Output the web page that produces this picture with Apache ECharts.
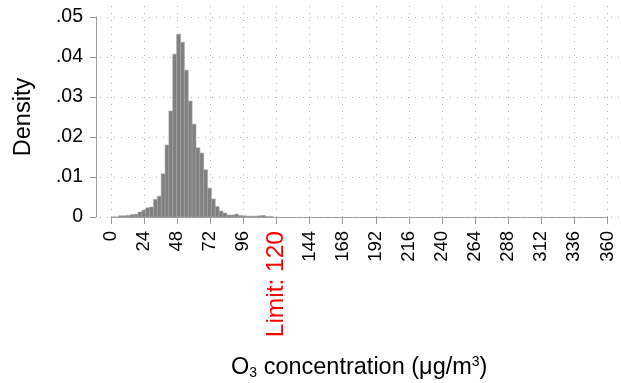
<!DOCTYPE html>
<html>
<head>
<meta charset="utf-8">
<script src="https://cdn.jsdelivr.net/npm/echarts@6/dist/echarts.min.js"></script>
<style>
html,body{margin:0;padding:0;background:#fff;}
#chart{width:621px;height:383px;}
</style>
</head>
<body>
<div id="chart"></div>
<script>
// ---- data ----
const binStart = 0;
const binWidth = 2.8;
const densities = [0, 0, 0.0003, 0.0003, 0.0004, 0.0006, 0.0007, 0.00125, 0.0017, 0.0023,
  0.0025, 0.0044, 0.0052, 0.0108, 0.018, 0.0265, 0.0407, 0.0457, 0.0437, 0.0367,
  0.029, 0.0232, 0.0173, 0.016, 0.0118, 0.0072, 0.0045, 0.0026, 0.0015, 0.001,
  0.0005, 0.0005, 0.0007, 0.0004, 0.0003, 0.0002, 0.0002, 0.0002, 0.0003, 0.0004,
  0.0001, 0.0001];
const xTicks = [0, 24, 48, 72, 96, 120, 144, 168, 192, 216, 240, 264, 288, 312, 336, 360];
const yTicks = [0, 0.01, 0.02, 0.03, 0.04, 0.05];
const yTickLabels = ['0', '.01', '.02', '.03', '.04', '.05'];
const limitValue = 120;
const limitLabel = 'Limit: 120';
const yTitle = 'Density';

// ---- layout ----
const W = 621, H = 383;
const A = {left: 111, right: 13.5, top: 17, bottom: 166};   // axes frame (0..360, 0..0.05)
const B = {left: 100, right: 1, top: 3, bottom: 166};        // plot region (grid lines)
const xMin = xTicks[0], xMax = xTicks[xTicks.length - 1];
const yMin = yTicks[0], yMax = yTicks[yTicks.length - 1];
const pxX = (W - A.left - A.right) / (xMax - xMin);
const pxY = (H - A.top - A.bottom) / (yMax - yMin);
const bxMin = xMin - (A.left - B.left) / pxX;
const bxMax = xMax + (A.right - B.right) / pxX;
const byMax = yMax + (A.top - B.top) / pxY;

const bins = densities.map((d, i) => [binStart + i * binWidth, binStart + (i + 1) * binWidth, d]);

const font = 'Liberation Sans, Arial, sans-serif';
const axisGray = '#9a9a9a';

const chart = echarts.init(document.getElementById('chart'), null, {renderer: 'canvas'});
chart.setOption({
  animation: false,
  backgroundColor: '#fff',
  textStyle: {fontFamily: font},
  grid: [
    {left: A.left, right: A.right, top: A.top, bottom: A.bottom, containLabel: false, outerBoundsMode: 'none'},
    {left: B.left, right: B.right, top: B.top, bottom: B.bottom, containLabel: false, outerBoundsMode: 'none'}
  ],
  xAxis: [
    {
      type: 'value', gridIndex: 0, min: xMin, max: xMax, interval: 24,
      axisLine: {show: true, onZero: false, lineStyle: {color: axisGray, width: 1}},
      axisTick: {show: true, length: 7, lineStyle: {color: axisGray}},
      splitLine: {show: false},
      axisLabel: {
        rotate: 90, margin: 14, fontSize: 18.5, color: '#000', fontFamily: font,
        formatter: v => v === limitValue ? '{red|' + limitLabel + '}' : String(v),
        rich: {red: {color: '#ff0000', fontSize: 24.5, fontFamily: font}}
      },
      name: 'O{sub|3} concentration (\u03bcg/m{sup|3})',
      nameLocation: 'middle', nameGap: 138,
      nameTextStyle: {
        fontSize: 23.5, color: '#000', fontFamily: font,
        rich: {
          sub: {fontSize: 14, verticalAlign: 'bottom', padding: [11, 0, 0, 0], fontFamily: font},
          sup: {fontSize: 14, verticalAlign: 'top', padding: [0, 0, 11, 0], fontFamily: font}
        }
      }
    },
    {type: 'value', gridIndex: 1, min: bxMin, max: bxMax, show: false, splitLine: {show: false}}
  ],
  yAxis: [
    {
      type: 'value', gridIndex: 0, min: yMin, max: yMax, interval: 0.01, offset: 15,
      axisLine: {show: true, onZero: false, lineStyle: {color: axisGray, width: 1}},
      axisTick: {show: true, length: 6, lineStyle: {color: axisGray}},
      splitLine: {show: false},
      axisLabel: {
        margin: 13, fontSize: 19.5, color: '#000', fontFamily: font,
        formatter: v => {
          const i = yTicks.findIndex(t => Math.abs(t - v) < 1e-9);
          return i >= 0 ? yTickLabels[i] : '';
        }
      },
      name: yTitle, nameLocation: 'middle', nameGap: 60, nameRotate: 90,
      nameTextStyle: {fontSize: 23.5, color: '#000', fontFamily: font}
    },
    {type: 'value', gridIndex: 1, min: yMin, max: byMax, show: false, splitLine: {show: false}}
  ],
  series: [
    {
      type: 'line', xAxisIndex: 1, yAxisIndex: 1, data: [], z: 1, silent: true,
      markLine: {
        silent: true, symbol: ['none', 'none'], label: {show: false},
        lineStyle: {color: '#b4b4b4', type: [1, 6], width: 1},
        data: xTicks.map(v => ({xAxis: v})).concat(yTicks.map(v => ({yAxis: v})))
      }
    },
    {
      type: 'custom', xAxisIndex: 0, yAxisIndex: 0, z: 5, data: bins,
      renderItem: (params, api) => {
        const p0 = api.coord([api.value(0), api.value(2)]);
        const p1 = api.coord([api.value(1), 0]);
        return {
          type: 'rect',
          shape: {x: p0[0], y: p0[1], width: p1[0] - p0[0], height: p1[1] - p0[1]},
          style: {fill: '#7f7f7f', stroke: '#a4a4a4', lineWidth: 0.6}
        };
      }
    }
  ]
});
</script>
</body>
</html>
